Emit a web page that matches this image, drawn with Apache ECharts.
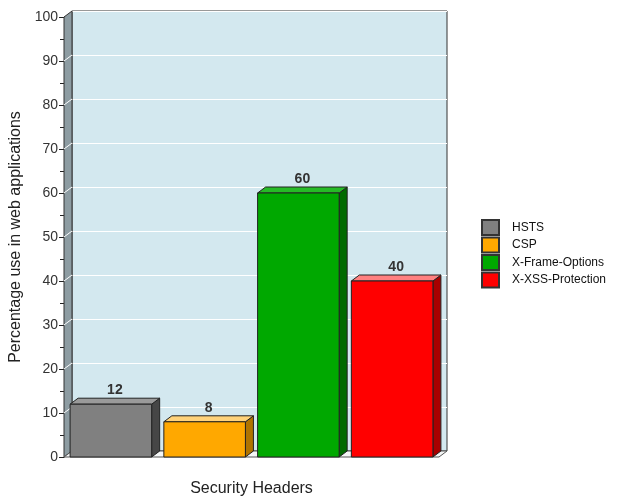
<!DOCTYPE html>
<html>
<head>
<meta charset="utf-8">
<script src="https://cdn.jsdelivr.net/npm/echarts@6/dist/echarts.min.js"></script>
<style>
  html, body { margin: 0; padding: 0; background: #fff; }
  #chart { width: 617px; height: 497px; }
</style>
</head>
<body>
<div id="chart"></div>
<script>
// chart data
var headers = ['HSTS', 'CSP', 'X-Frame-Options', 'X-XSS-Protection'];
var usage = [12, 8, 60, 40];
var yTicks = [0, 10, 20, 30, 40, 50, 60, 70, 80, 90, 100];

// bar colours: front, top, side
var faceColors = ['#808080', '#ffa800', '#00a800', '#ff0000'];
var topColors = ['#9a9a9a', '#ffd27a', '#26bb26', '#ff8080'];
var sideColors = ['#464646', '#b07400', '#006a00', '#a80000'];

// layout of the front plane and depth of the 3d effect
var G = { left: 64, right: 178, top: 17, bottom: 40 };
var DX = 8, DY = 6;

var chartDom = document.getElementById('chart');
var myChart = echarts.init(chartDom);

function renderBar(params, api) {
  var i = params.seriesIndex;
  var top = api.coord([api.value(0), api.value(1)]);
  var base = api.coord([api.value(0), 0]);
  var w = api.size([1, 0])[0] * 0.87;
  var l = top[0] - w / 2, r = top[0] + w / 2;
  var edge = { stroke: '#222', lineWidth: 1 };
  return {
    type: 'group',
    children: [
      {
        type: 'polygon',
        shape: { points: [[r, top[1]], [r + DX, top[1] - DY], [r + DX, base[1] - DY], [r, base[1]]] },
        style: Object.assign({ fill: sideColors[i] }, edge)
      },
      {
        type: 'polygon',
        shape: { points: [[l, top[1]], [l + DX, top[1] - DY], [r + DX, top[1] - DY], [r, top[1]]] },
        style: Object.assign({ fill: topColors[i] }, edge)
      },
      {
        type: 'rect',
        shape: { x: l, y: top[1], width: w, height: base[1] - top[1] },
        style: Object.assign({ fill: faceColors[i] }, edge)
      },
      {
        type: 'text',
        x: top[0] + DX / 2,
        y: top[1] - DY - 1,
        style: {
          text: String(api.value(1)),
          align: 'center',
          verticalAlign: 'bottom',
          fill: '#333',
          font: 'bold 14px "Liberation Sans"'
        }
      }
    ]
  };
}

var series = headers.map(function (name, i) {
  return {
    name: name,
    type: 'custom',
    xAxisIndex: 1,
    yAxisIndex: 1,
    z: 5,
    itemStyle: { color: faceColors[i], borderColor: '#333', borderWidth: 1 },
    renderItem: renderBar,
    data: [[i, usage[i]]]
  };
});

var option = {
  animation: false,
  textStyle: { fontFamily: 'Liberation Sans' },
  legend: {
    orient: 'vertical',
    left: 481,
    top: 219,
    padding: 0,
    icon: 'rect',
    itemWidth: 17,
    itemHeight: 15,
    itemGap: 0.5,
    textStyle: { fontSize: 12, color: '#111', padding: [0, 0, 0, 8] },
    data: headers
  },
  grid: [
    {
      // back wall
      left: G.left + DX, right: G.right - DX, top: G.top - DY, bottom: G.bottom + DY,
      outerBoundsMode: 'none',
      show: true,
      backgroundColor: '#d3e8ef',
      borderColor: '#333',
      borderWidth: 1
    },
    { left: G.left, right: G.right, top: G.top, bottom: G.bottom, outerBoundsMode: 'none' }
  ],
  xAxis: [
    { gridIndex: 0, type: 'category', data: headers, show: false },
    {
      gridIndex: 1,
      type: 'category',
      data: headers,
      name: 'Security Headers',
      nameLocation: 'middle',
      nameGap: 24,
      nameTextStyle: { fontSize: 16, color: '#222' },
      axisLine: { show: false },
      axisTick: { show: false },
      axisLabel: { show: false }
    }
  ],
  yAxis: [
    {
      gridIndex: 0, type: 'value', min: 0, max: 100, interval: 10,
      axisLine: { show: false }, axisTick: { show: false }, axisLabel: { show: false },
      splitLine: { show: true, lineStyle: { color: '#ffffff', width: 1 } }
    },
    {
      gridIndex: 1, type: 'value', min: 0, max: 100, interval: 10,
      name: 'Percentage use in web applications',
      nameLocation: 'middle',
      nameGap: 38,
      nameTextStyle: { fontSize: 16, color: '#222' },
      axisLine: { show: true, lineStyle: { color: '#222', width: 1 } },
      axisTick: { show: true, length: 5, lineStyle: { color: '#222' } },
      minorTick: { show: true, splitNumber: 2, length: 4, lineStyle: { color: '#222' } },
      axisLabel: { fontSize: 14, color: '#333', margin: 6 },
      splitLine: { show: false }
    }
  ],
  series: series
};

myChart.setOption(option);

// left wall and floor, placed from the grid layout
var W = 617, H = 497;
var x0 = G.left, x1 = W - G.right, yB = H - G.bottom, yT = G.top;
var deco = [
  {
    type: 'polygon', z: 1,
    shape: { points: [[x0, yT], [x0 + DX, yT - DY], [x0 + DX, yB - DY], [x0, yB]] },
    style: { fill: '#8d9ca2', stroke: '#333', lineWidth: 1 }
  },
  {
    type: 'polygon', z: 1,
    shape: { points: [[x0, yB], [x0 + DX, yB - DY], [x1 + DX, yB - DY], [x1, yB]] },
    style: { fill: '#f4f6f6', stroke: '#555', lineWidth: 1 }
  }
];
yTicks.forEach(function (t) {
  if (t === 0 || t === 100) return;
  var y = myChart.convertToPixel({ gridIndex: 1 }, [0, t])[1];
  deco.push({
    type: 'line', z: 2,
    shape: { x1: x0, y1: y, x2: x0 + DX, y2: y - DY },
    style: { stroke: '#ffffff', lineWidth: 1 }
  });
});
myChart.setOption({ graphic: { elements: deco } });

window.addEventListener('resize', function () {
  myChart.resize();
});
</script>
</body>
</html>
